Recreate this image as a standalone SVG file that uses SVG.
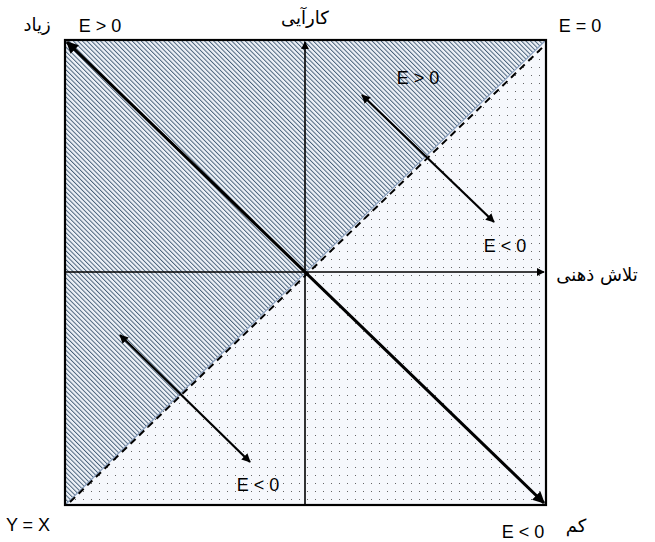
<svg xmlns="http://www.w3.org/2000/svg" width="655" height="542" viewBox="0 0 655 542">
<style>
text{font-family:"Liberation Sans","Noto Sans",Arial,sans-serif;font-size:18px;fill:#000}
.ar{font-family:"DejaVu Sans","Noto Sans",sans-serif;font-size:18px}
.ax{stroke:#000;stroke-width:1.6;fill:none}
.thick{stroke:#000;stroke-width:3;fill:none}
.arr{stroke:#000;stroke-width:2.2;fill:none}
</style>
<defs>
<pattern id="hatch" patternUnits="userSpaceOnUse" width="3.2" height="3.2" patternTransform="rotate(-45)">
<rect width="3.2" height="3.2" fill="#eef2f8"/>
<line x1="0.5" y1="0" x2="0.5" y2="3.2" stroke="#3b556f" stroke-width="0.9"/>
</pattern>
<pattern id="dots" patternUnits="userSpaceOnUse" width="8" height="8">
<rect width="8" height="8" fill="#f6f8fc"/>
<rect x="3" y="3" width="1" height="1" fill="#666"/>
</pattern>
<marker id="ah" viewBox="0 0 10 10" refX="9" refY="5" markerWidth="4" markerHeight="4" orient="auto-start-reverse">
<path d="M0,0 L10,5 L0,10 z" fill="#000"/>
</marker>
<marker id="ahs" viewBox="0 0 10 10" refX="9" refY="5" markerWidth="5" markerHeight="5" orient="auto-start-reverse">
<path d="M0,0 L10,5 L0,10 z" fill="#000"/>
</marker>
</defs>
<g id="regions">
<polygon points="65,40 546,40 65,505" fill="url(#hatch)"/>
<polygon points="546,40 546,505 65,505" fill="url(#dots)"/>
<line x1="65" y1="505" x2="546" y2="40" stroke="#8aa0bf" stroke-width="1.2"/>
</g>
<g id="connectors">
<line class="ax" x1="305" y1="505" x2="305" y2="42" marker-end="url(#ahs)"/>
<line class="ax" x1="65" y1="272" x2="544" y2="272" marker-end="url(#ahs)"/>
<line x1="70" y1="502" x2="546" y2="44" stroke="#000" stroke-width="2" stroke-dasharray="7,5"/>
<line class="thick" x1="67" y1="42" x2="544" y2="503" marker-start="url(#ah)" marker-end="url(#ah)"/>
<line class="arr" x1="362" y1="95" x2="494" y2="222" marker-start="url(#ah)" marker-end="url(#ah)"/>
<line class="arr" x1="120" y1="335" x2="250" y2="462" marker-start="url(#ah)" marker-end="url(#ah)"/>
</g>
<g id="frame">
<rect x="65" y="40" width="481" height="465" fill="none" stroke="#000" stroke-width="2.2"/>
</g>
<g id="labels">
<text x="100" y="32" text-anchor="middle">E &gt; 0</text>
<text class="ar" x="37" y="31" text-anchor="middle" direction="rtl">زیاد</text>
<text class="ar" x="305" y="24" text-anchor="middle" direction="rtl">کارآیی</text>
<text x="580" y="32" text-anchor="middle">E = 0</text>
<text x="418" y="84" text-anchor="middle">E &gt; 0</text>
<text x="505" y="252" text-anchor="middle">E &lt; 0</text>
<text class="ar" x="597" y="281" text-anchor="middle" direction="rtl">تلاش ذهنی</text>
<text x="258" y="491" text-anchor="middle">E &lt; 0</text>
<text x="28" y="531" text-anchor="middle">Y = X</text>
<text x="523" y="538" text-anchor="middle">E &lt; 0</text>
<text class="ar" x="576" y="532" text-anchor="middle" direction="rtl">کم</text>
</g>
</svg>
